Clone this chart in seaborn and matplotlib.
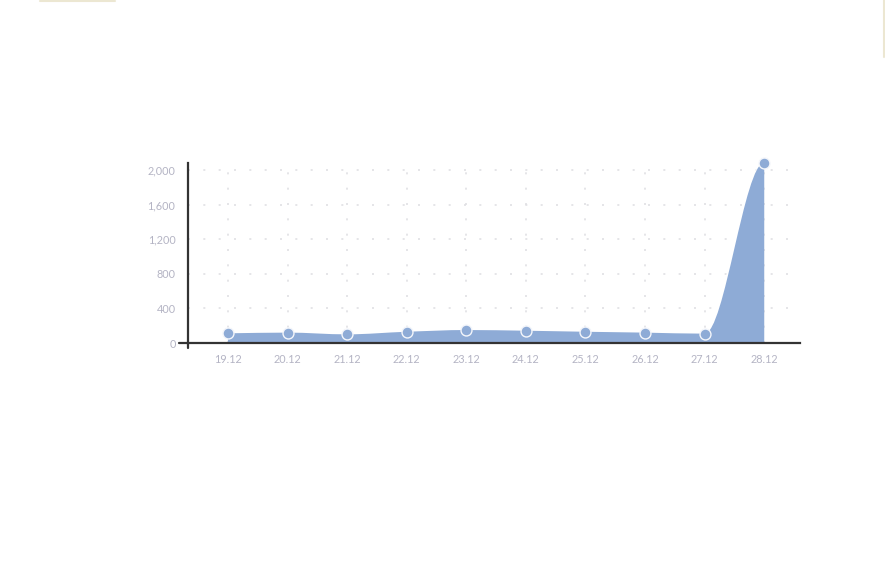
import numpy as np
import pandas as pd
import seaborn as sns
import matplotlib.pyplot as plt
from matplotlib.path import Path
from matplotlib.patches import PathPatch
from matplotlib.ticker import FuncFormatter

sns.set_style("white")
plt.rcParams['font.family'] = ['Lato', 'DejaVu Sans']

days = ["19.12", "20.12", "21.12", "22.12", "23.12", "24.12", "25.12", "26.12", "27.12", "28.12"]
counts = [112, 120, 100, 130, 150, 142, 130, 120, 108, 2085]
yticks = [0, 400, 800, 1200, 1600, 2000]

df = pd.DataFrame({"day": days, "count": counts})
df["pos"] = range(len(df))

blue = "#8eabd6"
grid_c = "#e0e0e4"
label_c = "#b4b4c4"

fig = plt.figure(figsize=(8.85, 5.65), dpi=100)
ax = fig.add_axes([188 / 885, 222 / 565, 612 / 885, 180 / 565])


# smooth monotone curve as cubic bezier segments (pchip tangents)
def monotone_path(x, y):
    x = np.asarray(x, float)
    y = np.asarray(y, float)
    h = np.diff(x)
    d = np.diff(y) / h
    m = np.zeros_like(y)
    for i in range(1, len(y) - 1):
        if d[i - 1] * d[i] > 0:
            w1 = 2 * h[i] + h[i - 1]
            w2 = h[i] + 2 * h[i - 1]
            m[i] = (w1 + w2) / (w1 / d[i - 1] + w2 / d[i])
    m[0] = d[0]
    m[-1] = 0
    verts = [(x[0], y[0])]
    codes = [Path.MOVETO]
    for i in range(len(x) - 1):
        verts += [(x[i] + h[i] / 3, y[i] + m[i] * h[i] / 3),
                  (x[i + 1] - h[i] / 3, y[i + 1] - m[i + 1] * h[i] / 3),
                  (x[i + 1], y[i + 1])]
        codes += [Path.CURVE4] * 3
    return verts, codes


verts, codes = monotone_path(df["pos"], df["count"])
fill_verts = verts + [(df["pos"].iloc[-1], 0), (df["pos"].iloc[0], 0), verts[0]]
fill_codes = codes + [Path.LINETO, Path.LINETO, Path.CLOSEPOLY]
ax.add_patch(PathPatch(Path(fill_verts, fill_codes), facecolor=blue, edgecolor="none", zorder=2))
ax.add_patch(PathPatch(Path(verts, codes), facecolor="none", edgecolor="white",
                       lw=2.5, alpha=0.6, zorder=1.9))

sns.scatterplot(data=df, x="pos", y="count", ax=ax, s=62, color=blue,
                edgecolor="#f4f6fb", linewidth=1.0, zorder=4, clip_on=False)

ax.set_xlim(-0.67, 9.6)
ax.set_ylim(0, 2081)
ax.set_xticks(df["pos"])
ax.set_xticklabels(days)
ax.set_yticks(yticks)
ax.yaxis.set_major_formatter(FuncFormatter(lambda v, p: f"{int(v):,}"))
ax.set_xlabel("")
ax.set_ylabel("")

ax.grid(True, color=grid_c, linestyle=(0, (1.2, 8)), linewidth=1.2, zorder=0)
ax.set_axisbelow(True)
ax.tick_params(axis="both", length=0, labelsize=7.8, colors=label_c)
ax.tick_params(axis="x", pad=8)
ax.tick_params(axis="y", pad=9)

sns.despine(ax=ax)
for s in ["left", "bottom"]:
    ax.spines[s].set_color("#333333")
    ax.spines[s].set_linewidth(1.6)
    ax.spines[s].set_zorder(5)
# small crossing extensions of the axes
ax.plot([-0.015, 0], [0, 0], transform=ax.transAxes, color="#333333", lw=1.6, clip_on=False)
ax.plot([0, 0], [-0.028, 0], transform=ax.transAxes, color="#333333", lw=1.6, clip_on=False)

# faint frame pieces at the top
fig.add_artist(plt.Line2D([40 / 885, 115 / 885], [564.5 / 565, 564.5 / 565], color="#ece7d2", lw=1.5))
fig.add_artist(plt.Line2D([884 / 885, 884 / 885], [1, 508 / 565], color="#ece7d2", lw=1.5))

fig.savefig("out.png", dpi=100)
